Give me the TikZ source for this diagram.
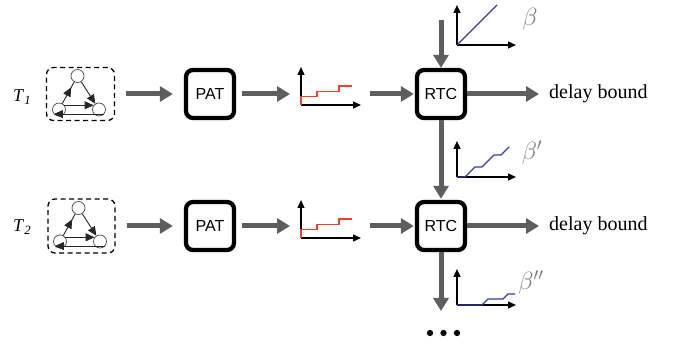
\documentclass[tikz,border=0pt]{standalone}
\usepackage{fontspec}
\setmainfont{Liberation Serif}
\newfontfamily\blocksans{Liberation Sans}
\usetikzlibrary{arrows.meta,decorations.markings}

\definecolor{flowgray}{HTML}{5E5E5E}
\definecolor{stepred}{HTML}{E8432E}
\definecolor{curveblue}{HTML}{3B3B9C}
\definecolor{labelgray}{HTML}{7C7C7C}

\begin{document}
\begin{tikzpicture}[x=1pt,y=-1pt,
  flow/.style={draw=flowgray, line width=5pt, -{Triangle[length=13pt,width=15pt]}},
  block/.style={draw=black, line width=4.3pt, rounded corners=7pt, fill=white,
    minimum width=48pt, minimum height=48pt, inner sep=0pt,
    font=\blocksans\fontsize{16}{18}\selectfont},
  taskbox/.style={draw=black, line width=1.3pt, dash pattern=on 5pt off 3.5pt,
    rounded corners=7pt, minimum width=68pt, minimum height=53pt, inner sep=0pt},
  axis/.style={draw=black, line width=1.3pt, -{Triangle[length=8pt,width=7pt]}},
  redcurve/.style={draw=stepred, line width=1.4pt},
  bluecurve/.style={draw=curveblue, line width=1.3pt},
  vtx/.style={circle, draw=black!70, line width=0.7pt, minimum size=13pt, inner sep=0pt},
  tedge/.style={draw=black!85, line width=0.9pt},
  tarrow/.style={tedge, -{Triangle[length=9pt,width=8pt]}},
  midarrow/.style={tedge, postaction={decorate}, decoration={markings,
    mark=at position 0.75 with {\arrow{Triangle[length=9pt,width=8pt]}}}},
  tasklabel/.style={anchor=base west, inner sep=0pt, font=\fontsize{18}{20}\selectfont},
  curvelabel/.style={inner sep=0pt, text=labelgray, font=\fontsize{23}{25}\selectfont},
  outlabel/.style={anchor=base west, inner sep=0pt, font=\fontsize{20}{22}\selectfont},
  dot/.style={circle, fill=black, inner sep=0pt, minimum size=6.3pt}
]
\useasboundingbox (0,0) rectangle (673,347);

% ---------- task graphs ----------
\node[taskbox] (tb1) at (80.5,94) {};
\node[taskbox, minimum width=67pt, minimum height=54pt] (tb2) at (81.5,226) {};

\foreach \k/\cx/\cy in {1/80.5/94, 2/81.5/226} {
  \node[vtx] (top\k) at (\cx-3,\cy-18) {};
  \node[vtx] (bl\k)  at (\cx-21.5,\cy+15.5) {};
  \node[vtx] (br\k)  at (\cx+18.5,\cy+15.5) {};
  \draw[midarrow] (bl\k) -- (top\k);
  \draw[tarrow] (top\k) -- (br\k);
  \draw[tarrow] (bl\k.38) -- (br\k.142);
  \draw[tarrow] (br\k.-42) -- (bl\k.-138);
}

\node[tasklabel] (t1) at (13,102) {\textit{T}\textsubscript{\textit{1}}};
\node[tasklabel] (t2) at (13,232) {\textit{T}\textsubscript{\textit{2}}};

% ---------- blocks ----------
\node[block] (pat1) at (210,94) {PAT};
\node[block] (rtc1) at (441,94) {RTC};
\node[block] (pat2) at (210,226) {PAT};
\node[block] (rtc2) at (441,226) {RTC};

% ---------- arrival curves (staircases) ----------
\foreach \oy in {105,238} {
  \draw[axis] (301,\oy) -- (301,\oy-38);
  \draw[axis] (301,\oy) -- (361,\oy);
  \draw[redcurve] (301,\oy) -- (301,\oy-8.5) -- (317,\oy-8.5) -- (317,\oy-13.5)
    -- (339,\oy-13.5) -- (339,\oy-19) -- (352,\oy-19);
}

% ---------- service curves ----------
\draw[axis] (457,45) -- (457,5);
\draw[axis] (457,45) -- (516,45);
\draw[bluecurve] (457,45) -- (497,5);
\node[curvelabel] (b0) at (530,19) {$\beta$};

\draw[axis] (457,177) -- (457,141);
\draw[axis] (457,177) -- (516,177);
\draw[bluecurve] (457,177) -- (465,177) -- (475,167) -- (482,167) -- (494,155)
  -- (501,155) -- (509,147);
\node[curvelabel] (b1) at (532,153) {$\beta'$};

\draw[axis] (457,305) -- (457,269);
\draw[axis] (457,305) -- (516,305);
\draw[bluecurve] (457,305) -- (482,305) -- (488,299) -- (503,299) -- (508,294)
  -- (515,294);
\node[curvelabel] (b2) at (531,283) {$\beta''$};

% ---------- free connector ends ----------
\coordinate (g1in)  at (290,94);
\coordinate (g1out) at (370,94);
\coordinate (g2in)  at (290,226);
\coordinate (g2out) at (370,226);
\coordinate (svc)   at (441,20);
\coordinate (out1)  at (539,94);
\coordinate (out2)  at (539,226);
\coordinate (rest)  at (441,311);

% ---------- flow arrows ----------
\draw[flow, shorten <=11pt, shorten >=11pt] (tb1) -- (pat1);
\draw[flow, shorten <=6pt] (pat1) -- (g1in);
\draw[flow, shorten >=1pt] (g1out) -- (rtc1);
\draw[flow] (rtc1) -- (out1);
\draw[flow, shorten <=11pt, shorten >=11pt] (tb2) -- (pat2);
\draw[flow, shorten <=6pt] (pat2) -- (g2in);
\draw[flow, shorten >=1pt] (g2out) -- (rtc2);
\draw[flow] (rtc2) -- (out2);
\draw[flow] (svc) -- (rtc1);
\draw[flow, shorten >=1pt] (rtc1) -- (rtc2);
\draw[flow] (rtc2) -- (rest);

\node[outlabel] (d1) at (549,99) {delay bound};
\node[outlabel] (d2) at (549,231) {delay bound};

% ---------- continuation dots ----------
\node[dot] (dA) at (430,333) {};
\node[dot] (dB) at (443.5,333) {};
\node[dot] (dC) at (457,333) {};
\end{tikzpicture}
\end{document}
